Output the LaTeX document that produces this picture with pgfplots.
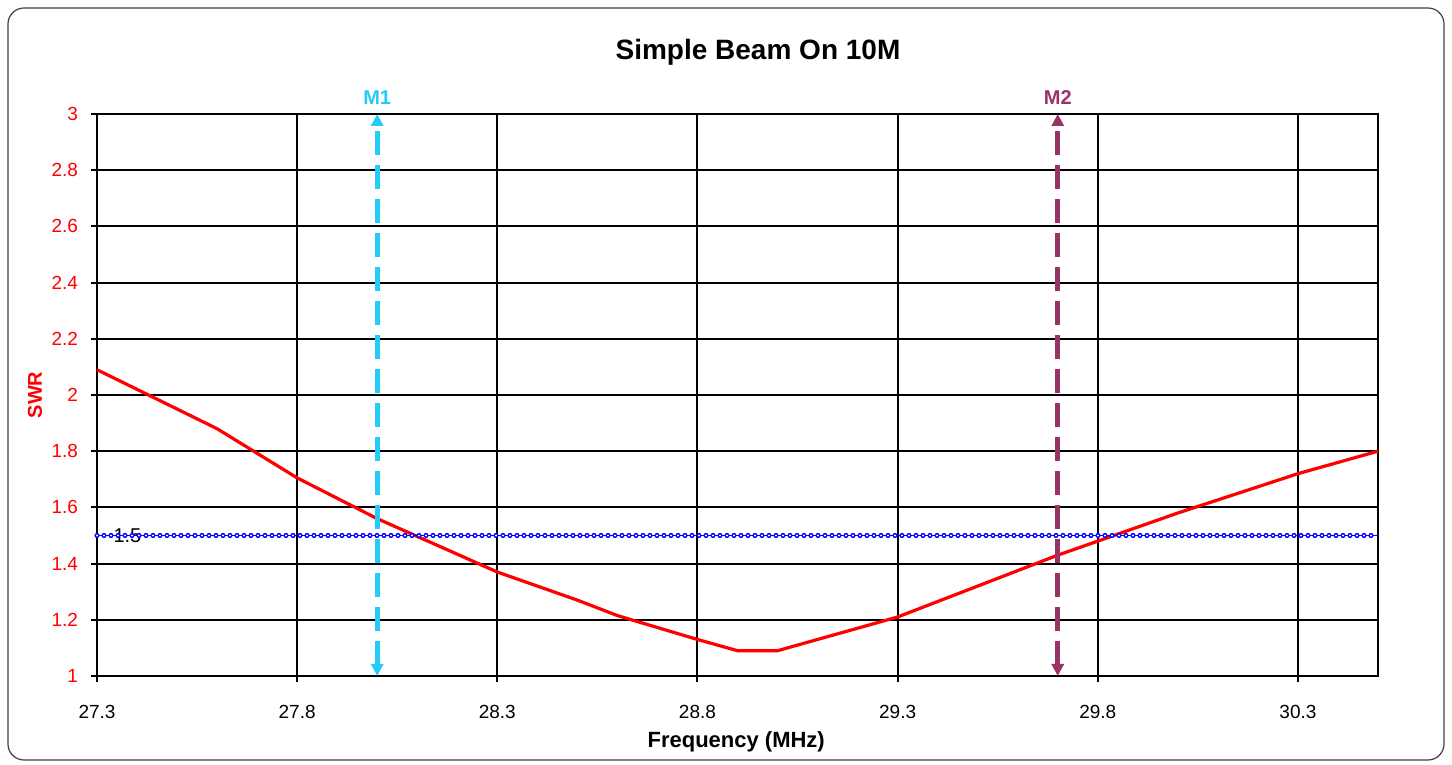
\documentclass[border=0pt]{standalone}
\usepackage{fontspec}
\setmainfont{Liberation Sans}
\usepackage{pgfplots}
\pgfplotsset{compat=1.18}
\usetikzlibrary{arrows.meta}

\definecolor{swrred}{HTML}{FF0000}
\definecolor{mone}{HTML}{22CCF8}
\definecolor{mtwo}{HTML}{993366}
\definecolor{limblue}{HTML}{0000FF}

\begin{document}
\begin{tikzpicture}
% page size follows the reference (1 px = 0.5 pt)
\path[use as bounding box] (-48.5pt,-44.5pt) rectangle (677.5pt,338pt);
\draw[black!75, line width=0.6pt, rounded corners=8pt] (-44.5pt,-42pt) rectangle (673.5pt,334pt);

\begin{axis}[
    at={(0,0)}, anchor=south west,
    scale only axis,
    width=640.5pt, height=281pt,
    xmin=27.3, xmax=30.5,
    ymin=1, ymax=3,
    xtick={27.3,27.8,28.3,28.8,29.3,29.8,30.3},
    ytick={1,1.2,1.4,1.6,1.8,2,2.2,2.4,2.6,2.8,3},
    xtick pos=bottom, ytick pos=left,
    tick align=outside,
    major tick length=3pt,
    grid=major,
    major grid style={black, line width=1pt},
    axis line style={black, line width=1pt},
    tick style={black, line width=1pt},
    /pgf/number format/assume math mode=true,
    ticklabel style={font=\fontsize{9.5}{11}\selectfont},
    yticklabel style={text=swrred, xshift=-3pt},
    xticklabel style={yshift=-8pt},
    clip=false,
]

% SWR curve
\addplot[swrred, line width=1.6pt, mark=none] coordinates {
    (27.3,2.09) (27.6,1.88) (27.8,1.705) (28.0,1.56) (28.3,1.37)
    (28.5,1.27) (28.6,1.215) (28.8,1.13) (28.9,1.09) (29.0,1.09)
    (29.1,1.13) (29.3,1.21) (29.5,1.32) (29.7,1.43) (29.8,1.48)
    (30.0,1.58) (30.3,1.72) (30.5,1.80)
};

% 1.5 limit line with its label (line of small hollow circles)
\node[font=\fontsize{10}{12}\selectfont] at (axis cs:27.376,1.5) {1.5};
\addplot[limblue, line width=0.5pt, mark=none] coordinates {(27.3,1.5) (30.5,1.5)};
\addplot[limblue, line width=2.6pt, line cap=round, dash pattern=on 0pt off 3.5pt, mark=none]
    coordinates {(27.3,1.5) (30.5,1.5)};
\addplot[white, line width=1.1pt, line cap=round, dash pattern=on 0pt off 3.5pt, mark=none]
    coordinates {(27.3,1.5) (30.5,1.5)};

% markers
\addplot[mone, line width=2.5pt, dash pattern=on 12pt off 5pt,
    {Triangle[length=6pt,width=6pt]}-{Triangle[length=6pt,width=6pt]}]
    coordinates {(28.0,1) (28.0,3)};
\addplot[mtwo, line width=2.5pt, dash pattern=on 12pt off 5pt,
    {Triangle[length=6pt,width=6pt]}-{Triangle[length=6pt,width=6pt]}]
    coordinates {(29.7,1) (29.7,3)};
\node[text=mone, font=\fontsize{10}{12}\selectfont\bfseries, anchor=south] at (axis cs:28.0,3) [yshift=1pt] {M1};
\node[text=mtwo, font=\fontsize{10}{12}\selectfont\bfseries, anchor=south] at (axis cs:29.7,3) [yshift=1pt] {M2};

% titles
\node[font=\fontsize{14}{16}\selectfont\bfseries] at ([yshift=31pt] rel axis cs:0.516,1) {Simple Beam On 10M};
\node[font=\fontsize{11}{13}\selectfont\bfseries] at ([yshift=-33pt] rel axis cs:0.499,0) {Frequency (MHz)};
\node[text=swrred, font=\fontsize{10}{12}\selectfont\bfseries, rotate=90] at ([xshift=-31pt] rel axis cs:0,0.5) {SWR};
\end{axis}
\end{tikzpicture}
\end{document}
